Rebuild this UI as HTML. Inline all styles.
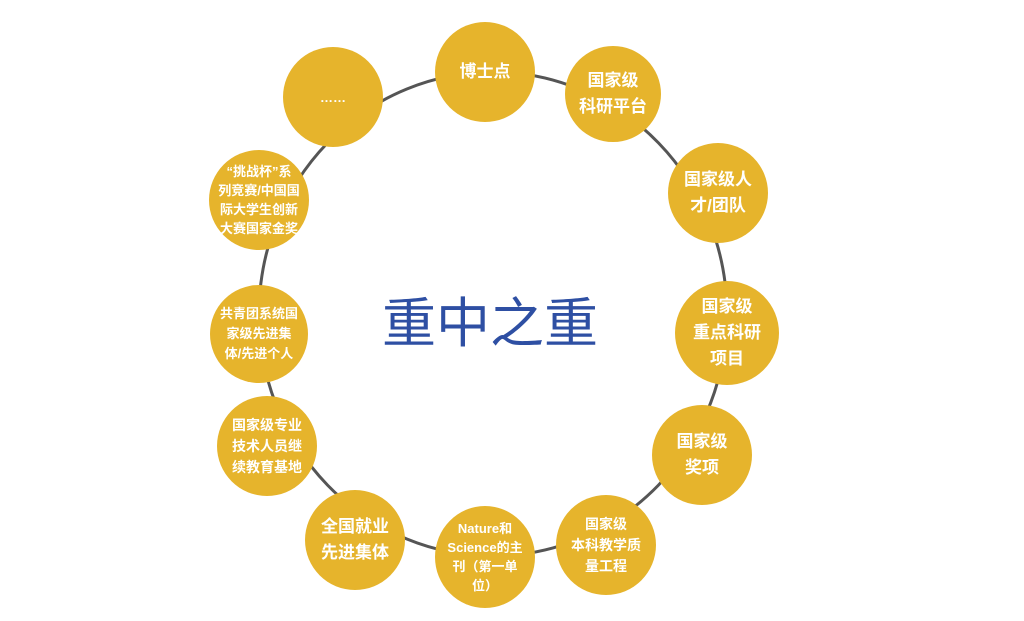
<!DOCTYPE html>
<html><head><meta charset="utf-8"><style>
body{margin:0;width:1024px;height:621px;background:#fff;position:relative;overflow:hidden;font-family:"Liberation Sans","Noto Sans CJK SC",sans-serif}
.c{position:absolute;border-radius:50%;background:#E6B42C;color:#fff;font-weight:bold;display:flex;align-items:center;justify-content:center;text-align:center;box-sizing:border-box}
.t{font-size:13px;line-height:19px}
.m{font-size:17px;line-height:26px}
</style></head><body>
<svg width="1024" height="621" style="position:absolute;left:0;top:0">
<ellipse cx="493" cy="314" rx="234" ry="242" fill="none" stroke="#555" stroke-width="3"/>
</svg>
<div style="position:absolute;left:370px;top:284px;width:240px;text-align:center;font-size:54px;color:#2E4FA3;font-family:'Noto Sans CJK SC',sans-serif;line-height:70px">重中之重</div>
<div class="c m" style="left:435px;top:22px;width:100px;height:100px">博士点</div>
<div class="c m" style="left:565px;top:46px;width:96px;height:96px">国家级<br>科研平台</div>
<div class="c m" style="left:668px;top:143px;width:100px;height:100px">国家级人<br>才/团队</div>
<div class="c m" style="left:675px;top:281px;width:104px;height:104px">国家级<br>重点科研<br>项目</div>
<div class="c m" style="left:652px;top:405px;width:100px;height:100px">国家级<br>奖项</div>
<div class="c" style="left:556px;top:495px;width:100px;height:100px;font-size:14px;line-height:21px">国家级<br>本科教学质<br>量工程</div>
<div class="c t" style="left:435px;top:506px;width:100px;height:102px">Nature和<br>Science的主<br>刊（第一单<br>位）</div>
<div class="c m" style="left:305px;top:490px;width:100px;height:100px">全国就业<br>先进集体</div>
<div class="c" style="left:217px;top:396px;width:100px;height:100px;font-size:14px;line-height:21px">国家级专业<br>技术人员继<br>续教育基地</div>
<div class="c t" style="left:210px;top:285px;width:98px;height:98px;line-height:20px">共青团系统国<br>家级先进集<br>体/先进个人</div>
<div class="c t" style="left:209px;top:150px;width:100px;height:100px">“挑战杯”系<br>列竞赛/中国国<br>际大学生创新<br>大赛国家金奖</div>
<div class="c t" style="left:283px;top:47px;width:100px;height:100px">……</div>
</body></html>
